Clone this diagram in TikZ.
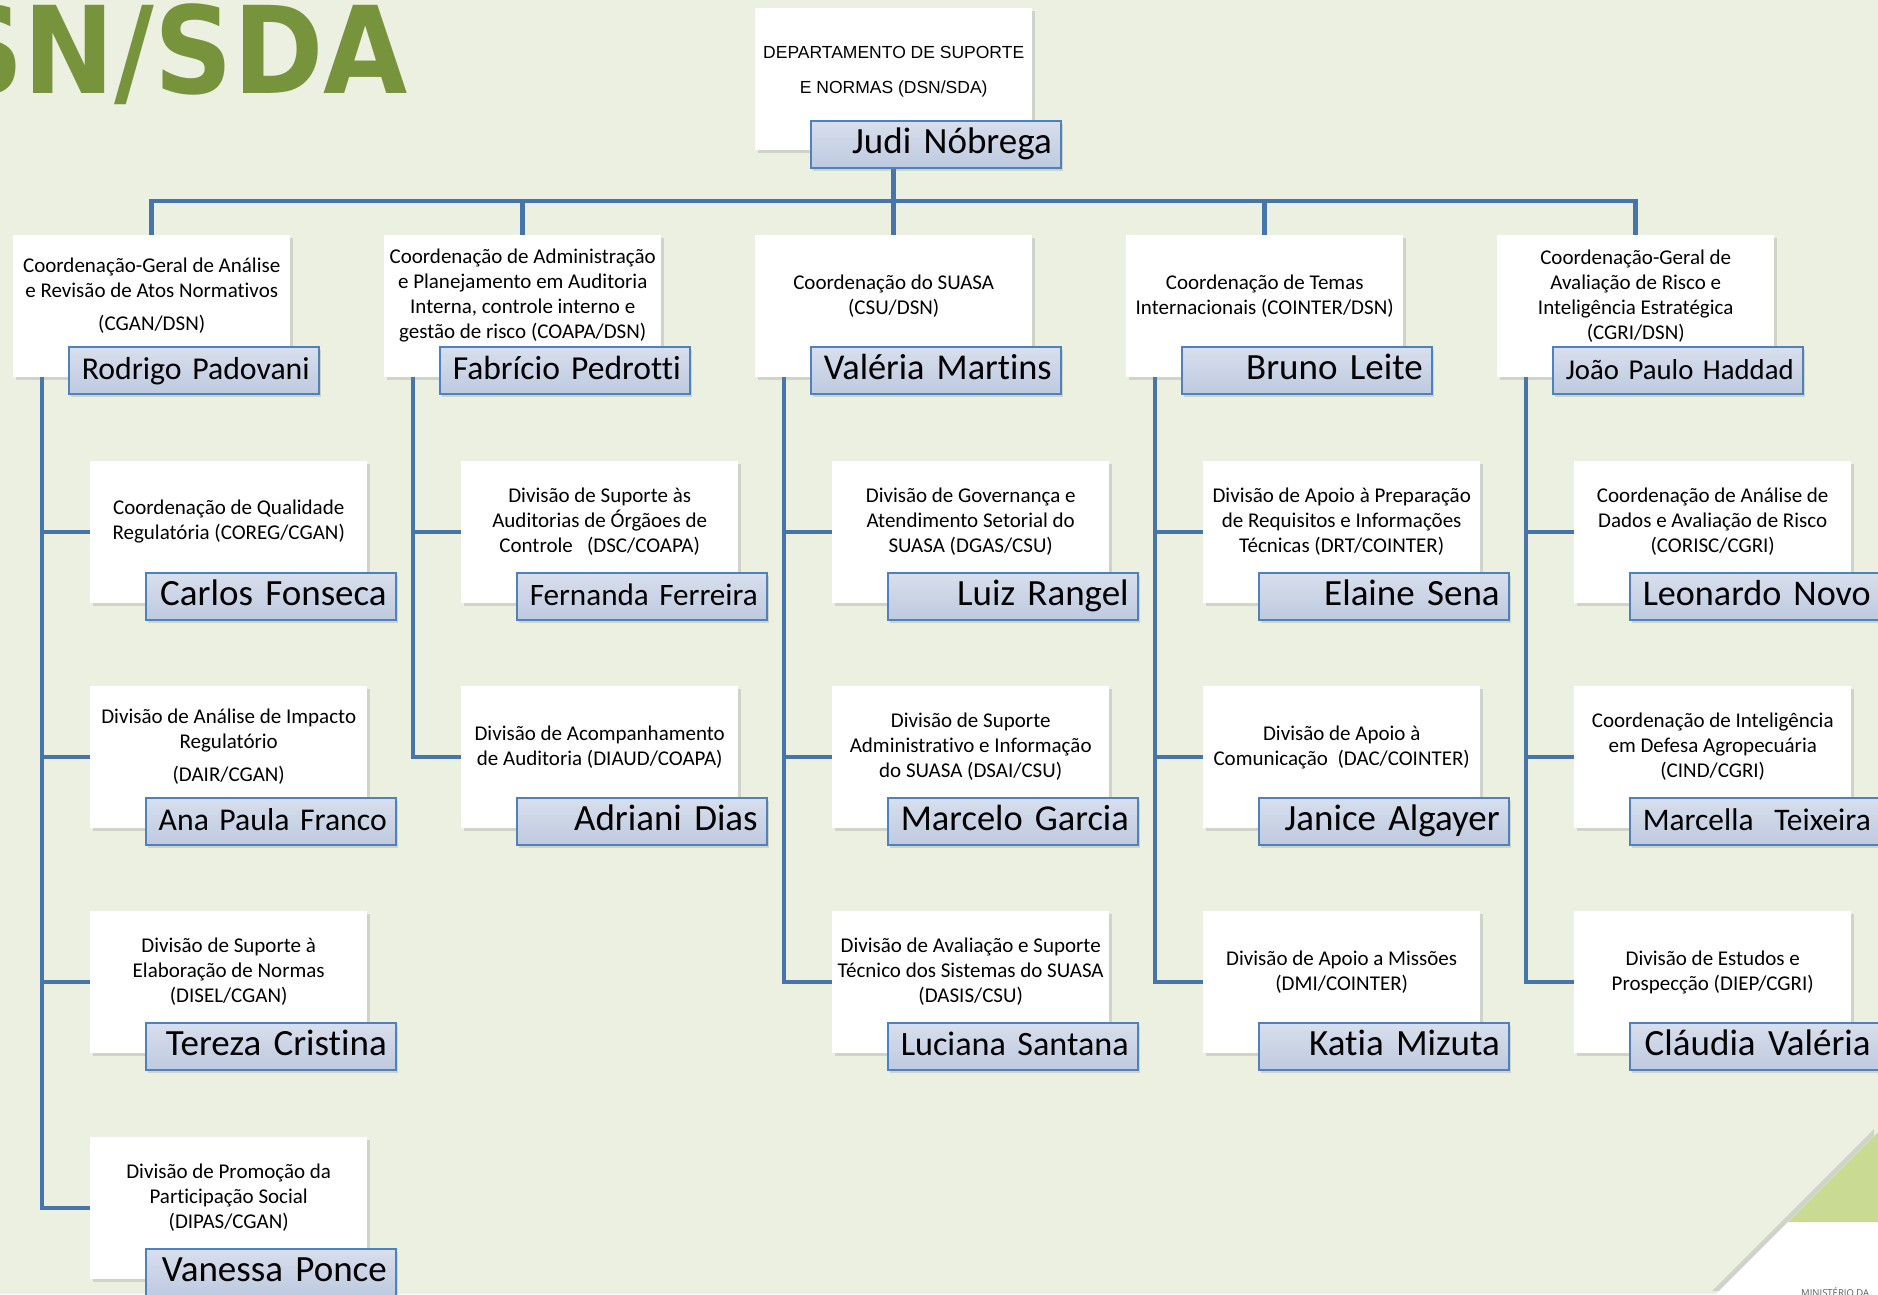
\documentclass[tikz,border=0pt]{standalone}
\usepackage{fontspec}
\usepackage{graphicx}
\setmainfont{Carlito}[Ligatures=NoCommon]
\newfontfamily\arialfont{Liberation Sans}
\newfontfamily\titlefont{DejaVu Sans}
\newfontfamily\footfont{Open Sans}
\usetikzlibrary{calc,positioning,shadows}

\definecolor{paper}{RGB}{235,240,224}
\definecolor{linkblue}{RGB}{70,116,172}
\definecolor{nameedge}{RGB}{79,129,189}
\definecolor{nametop}{RGB}{216,223,237}
\definecolor{namebottom}{RGB}{190,202,224}
\definecolor{titlegreen}{RGB}{119,147,60}
\definecolor{cornergreen}{RGB}{201,218,146}

\pgfdeclarelayer{paper}
\pgfdeclarelayer{lines}
\pgfsetlayers{paper,lines,main}

% shrink a name that is too long for its plate
\newsavebox\namesave
\newcommand\fitname[1]{%
  \sbox\namesave{#1}%
  \ifdim\wd\namesave>228pt\resizebox{228pt}{!}{\usebox\namesave}\else\usebox\namesave\fi}

% white box, its text and the name plate
\newcommand\orgunit[5]{%
  \node[unitbox] (#1) at (#2,#3) {};
  \node[unittext] (#1-text) at ($(#1.north)+(0,61)$) {#4};
  \node[nameplate] (#1-name) at ($(#1.north west)+(55,111)$) {\fitname{#5}};}

\begin{document}
\begin{tikzpicture}[x=1pt,y=-1pt,
    unitbox/.style={rectangle,fill=white,anchor=north west,inner sep=0pt,
      minimum width=277pt,minimum height=142pt,
      drop shadow={shadow xshift=2.5pt,shadow yshift=-3pt,opacity=.25}},
    unittext/.style={align=center,inner sep=0pt,font=\fontsize{21}{25}\selectfont},
    nameplate/.style={rectangle,anchor=north west,draw=nameedge,line width=1.5pt,
      top color=nametop,bottom color=namebottom,
      minimum width=250pt,minimum height=47pt,text width=232pt,
      inner xsep=9pt,inner ysep=0pt,align=right,
      text height=26pt,text depth=7pt,font=\fontsize{37}{40}\selectfont,
      drop shadow={shadow xshift=2.5pt,shadow yshift=-3pt,opacity=.25}},
    link/.style={draw=linkblue,line width=4.5pt}]
  \useasboundingbox (0,0) rectangle (1878,1294);

  % page background and corner
  \begin{pgfonlayer}{paper}
    \fill[paper] (0,0) rectangle (1878,1294);
    \fill[white,drop shadow={shadow xshift=-4pt,shadow yshift=3pt,opacity=.25}]
      (1878,1132) -- (1716,1294) -- (1878,1294) -- cycle;
    \fill[cornergreen] (1878,1132) -- (1788,1222) -- (1878,1222) -- cycle;
  \end{pgfonlayer}

  \node[anchor=base east,inner sep=0pt,text=titlegreen,
    font=\titlefont\bfseries\fontsize{121}{121}\selectfont] (title) at (408,93)
    {\scalebox{0.9}[1]{DSN/SDA}};
  \node[anchor=north west,inner sep=0pt,text=black!65,
    font=\footfont\fontsize{9.5}{10}\selectfont] (ministry) at (1801,1287) {MINISTÉRIO DA};

  % department
  \node[unitbox] (dsn) at (755,8) {};
  \node[unittext,font=\arialfont\fontsize{17.5}{35}\selectfont] (dsn-text)
    at ($(dsn.north)+(0,64)$) {DEPARTAMENTO DE SUPORTE\\E NORMAS (DSN/SDA)};
  \node[nameplate] (dsn-name) at ($(dsn.north west)+(55,112)$) {\fitname{Judi Nóbrega}};

  % coordinations
  \orgunit{cgan}{13}{235}{Coordenação-Geral de Análise\\e Revisão de Atos Normativos\\[8pt](CGAN/DSN)}{Rodrigo Padovani}
  \orgunit{coapa}{384}{235}{Coordenação de Administração\\e Planejamento em Auditoria\\Interna, controle interno e\\gestão de risco (COAPA/DSN)}{Fabrício Pedrotti}
  \orgunit{csu}{755}{235}{Coordenação do SUASA\\(CSU/DSN)}{Valéria Martins}
  \orgunit{cointer}{1126}{235}{Coordenação de Temas\\Internacionais (COINTER/DSN)}{Bruno Leite}
  \orgunit{cgri}{1497}{235}{Coordenação-Geral de\\Avaliação de Risco e\\Inteligência Estratégica\\(CGRI/DSN)}{João Paulo Haddad}

  % CGAN
  \orgunit{coreg}{90}{461}{Coordenação de Qualidade\\Regulatória (COREG/CGAN)}{Carlos Fonseca}
  \orgunit{dair}{90}{686}{Divisão de Análise de Impacto\\Regulatório\\[8pt](DAIR/CGAN)}{Ana Paula Franco}
  \orgunit{disel}{90}{911}{Divisão de Suporte à\\Elaboração de Normas\\(DISEL/CGAN)}{Tereza Cristina}
  \orgunit{dipas}{90}{1137}{Divisão de Promoção da\\Participação Social\\(DIPAS/CGAN)}{Vanessa Ponce}

  % COAPA
  \orgunit{dsc}{461}{461}{Divisão de Suporte às\\Auditorias de Órgãoes de\\Controle\ \ \ (DSC/COAPA)}{Fernanda Ferreira}
  \orgunit{diaud}{461}{686}{Divisão de Acompanhamento\\de Auditoria (DIAUD/COAPA)}{Adriani Dias}

  % CSU
  \orgunit{dgas}{832}{461}{Divisão de Governança e\\Atendimento Setorial do\\SUASA (DGAS/CSU)}{Luiz Rangel}
  \orgunit{dsai}{832}{686}{Divisão de Suporte\\Administrativo e Informação\\do SUASA (DSAI/CSU)}{Marcelo Garcia}
  \orgunit{dasis}{832}{911}{Divisão de Avaliação e Suporte\\Técnico dos Sistemas do SUASA\\(DASIS/CSU)}{Luciana Santana}

  % COINTER
  \orgunit{drt}{1203}{461}{Divisão de Apoio à Preparação\\de Requisitos e Informações\\Técnicas (DRT/COINTER)}{Elaine Sena}
  \orgunit{dac}{1203}{686}{Divisão de Apoio à\\Comunicação\ \ (DAC/COINTER)}{Janice Algayer}
  \orgunit{dmi}{1203}{911}{Divisão de Apoio a Missões\\(DMI/COINTER)}{Katia Mizuta}

  % CGRI
  \orgunit{corisc}{1574}{461}{Coordenação de Análise de\\Dados e Avaliação de Risco\\(CORISC/CGRI)}{Leonardo Novo}
  \orgunit{cind}{1574}{686}{Coordenação de Inteligência\\em Defesa Agropecuária\\(CIND/CGRI)}{Marcella\ \ Teixeira}
  \orgunit{diep}{1574}{911}{Divisão de Estudos e\\Prospecção (DIEP/CGRI)}{Cláudia Valéria}

  % connectors
  \begin{pgfonlayer}{lines}
    \coordinate (bus) at (0,201);
    \draw[link] (dsn.south) -- (dsn.south |- bus) -| (cgan.north);
    \draw[link] (dsn.south) -- (dsn.south |- bus) -| (coapa.north);
    \draw[link] (dsn.south) -- (csu.north);
    \draw[link] (dsn.south) -- (dsn.south |- bus) -| (cointer.north);
    \draw[link] (dsn.south) -- (dsn.south |- bus) -| (cgri.north);

    \draw[link] ($(cgan.south west)+(29,0)$) |- (coreg.west);
    \draw[link] ($(cgan.south west)+(29,0)$) |- (dair.west);
    \draw[link] ($(cgan.south west)+(29,0)$) |- (disel.west);
    \draw[link] ($(cgan.south west)+(29,0)$) |- (dipas.west);

    \draw[link] ($(coapa.south west)+(29,0)$) |- (dsc.west);
    \draw[link] ($(coapa.south west)+(29,0)$) |- (diaud.west);

    \draw[link] ($(csu.south west)+(29,0)$) |- (dgas.west);
    \draw[link] ($(csu.south west)+(29,0)$) |- (dsai.west);
    \draw[link] ($(csu.south west)+(29,0)$) |- (dasis.west);

    \draw[link] ($(cointer.south west)+(29,0)$) |- (drt.west);
    \draw[link] ($(cointer.south west)+(29,0)$) |- (dac.west);
    \draw[link] ($(cointer.south west)+(29,0)$) |- (dmi.west);

    \draw[link] ($(cgri.south west)+(29,0)$) |- (corisc.west);
    \draw[link] ($(cgri.south west)+(29,0)$) |- (cind.west);
    \draw[link] ($(cgri.south west)+(29,0)$) |- (diep.west);
  \end{pgfonlayer}
\end{tikzpicture}
\end{document}
